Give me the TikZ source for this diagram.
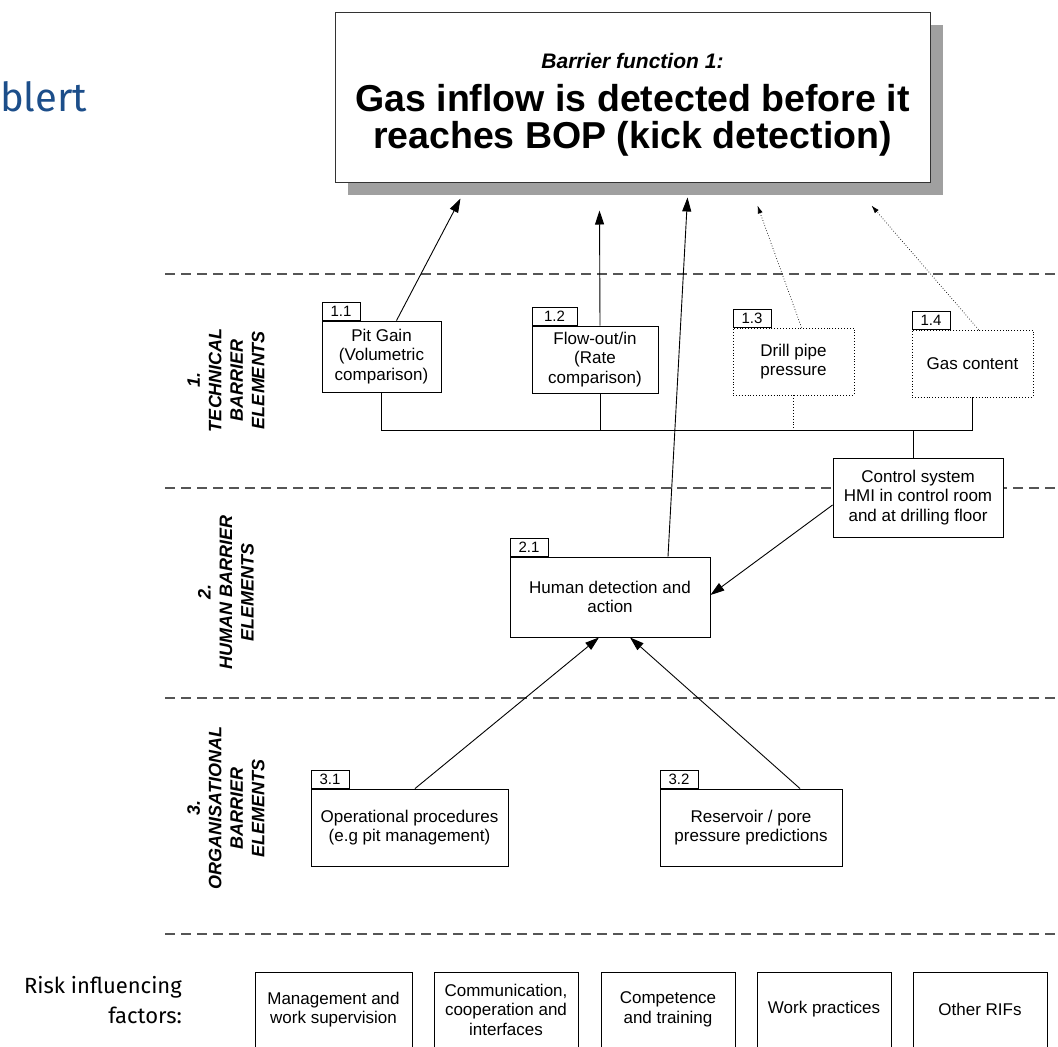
\documentclass[tikz,border=0pt]{standalone}
\usepackage{fontspec}
\setmainfont{Liberation Sans}
\newfontfamily\dinfont{Fira Sans}
\usetikzlibrary{arrows.meta,shadows}
\definecolor{logoblue}{RGB}{28,78,138}
\definecolor{dashgray}{RGB}{85,85,85}
\definecolor{shadowgray}{RGB}{160,160,160}

\begin{document}
\begin{tikzpicture}[x=1pt,y=-1pt,
  topbox/.style={draw=black!80, fill=white, line width=1pt, minimum width=595, minimum height=170, inner sep=0pt, align=center,
    font=\fontsize{37.5}{37}\selectfont\bfseries,
    drop shadow={shadow xshift=13pt, shadow yshift=-13pt, fill=shadowgray, opacity=1}},
  elem/.style={draw, fill=white, line width=0.9pt, inner sep=0pt, align=center, font=\fontsize{17}{19.5}\selectfont},
  weak/.style={elem, dotted},
  tag/.style={draw, fill=white, line width=0.9pt, anchor=south west, inner sep=0pt, minimum width=38, minimum height=18, font=\fontsize{15}{15}\selectfont},
  layer/.style={rotate=90, align=center, font=\fontsize{18}{21.5}\selectfont\bfseries\itshape},
  sep/.style={dashgray, line width=1.1pt, dash pattern=on 10pt off 6pt},
  link/.style={line width=0.9pt},
  arr/.style={line width=0.9pt, -{Triangle[length=14pt,width=9pt]}},
  weakarr/.style={line width=0.7pt, dotted, -{Latex[length=8pt,width=5pt]}}]
\useasboundingbox (0,0) rectangle (1058,1047);
\draw[sep] (165,274) -- (1058,274);
\draw[sep] (165,488) -- (1058,488);
\draw[sep] (165,698) -- (1058,698);
\draw[sep] (165,934) -- (1058,934);

\node[font=\dinfont\fontsize{40}{40}\selectfont, text=logoblue, anchor=base west, inner sep=0pt] (logo) at (0,111) {blert};
\node[topbox] (bf) at (632.5,97) {\rule{0pt}{31pt}{\fontsize{21}{21}\selectfont\itshape Barrier function 1:}\\[6pt]Gas inflow is detected before it\\reaches BOP (kick detection)};

\node[layer] (lay1) at (226,380) {1.\\TECHNICAL\\BARRIER\\ELEMENTS};
\node[layer] (lay2) at (226,592) {2.\\HUMAN BARRIER\\ELEMENTS};
\node[layer] (lay3) at (226,808) {3.\\ORGANISATIONAL\\BARRIER\\ELEMENTS};

\node[elem, minimum width=119, minimum height=71] (n11) at (381.5,356.5) {Pit Gain\\(Volumetric\\comparison)};
\node[elem, minimum width=126, minimum height=67] (n12) at (595,359.5) {Flow-out/in\\(Rate\\comparison)};
\node[weak, minimum width=121, minimum height=67] (n13) at (793.5,361.5) {Drill pipe\\pressure};
\node[weak, minimum width=121, minimum height=67] (n14) at (972.5,363.5) {Gas content};
\node[tag] (t11) at (n11.north west) {1.1};
\node[tag, minimum width=45] (t12) at (n12.north west) {1.2};
\node[tag] (t13) at (n13.north west) {1.3};
\node[tag] (t14) at (n14.north west) {1.4};

\node[elem, minimum width=170, minimum height=79] (ctrl) at (918,497.5) {Control system\\HMI in control room\\and at drilling floor};
\node[elem, minimum width=200, minimum height=80] (n21) at (610,597) {Human detection and\\action};
\node[tag] (t21) at (n21.north west) {2.1};

\node[elem, minimum width=197, minimum height=77] (n31) at (409.5,827.5) {Operational procedures\\(e.g pit management)};
\node[elem, minimum width=182, minimum height=77] (n32) at (751,827.5) {Reservoir / pore\\pressure predictions};
\node[tag] (t31) at (n31.north west) {3.1};
\node[tag] (t32) at (n32.north west) {3.2};

\node[font=\dinfont\fontsize{22}{30}\selectfont, align=right, anchor=east, inner sep=0pt] (rifs) at (182,1000) {Risk influencing\\factors:};
\node[elem, minimum width=157, minimum height=75] (r1) at (333.5,1009.5) {Management and\\work supervision};
\node[elem, minimum width=144, minimum height=75] (r2) at (506,1009.5) {Communication,\\cooperation and\\interfaces};
\node[elem, minimum width=134, minimum height=75] (r3) at (668,1009.5) {Competence\\and training};
\node[elem, minimum width=134, minimum height=75] (r4) at (824,1009.5) {Work practices};
\node[elem, minimum width=134, minimum height=75] (r5) at (980,1009.5) {Other RIFs};

\draw[link] (n11.south) |- (n14.south |- 0,430) -- (n14.south);
\draw[link] ([xshift=5pt]n12.south) -- ++(0,37);
\draw[link, dotted] (n13.south) -- ++(0,35);
\draw[link] ([xshift=-5pt]ctrl.north) -- ++(0,-28);

\draw[arr] ([xshift=15pt]n11.north) -- ([shift={(126,16)}]bf.south west);
\draw[arr] ([xshift=5pt]n12.north) -- ([shift={(265,28)}]bf.south west);
\draw[weakarr] ([xshift=8pt]n13.north) -- ([shift={(423,23)}]bf.south west);
\draw[weakarr] ([xshift=6pt]n14.north) -- ([shift={(537,23)}]bf.south west);
\draw[arr] ([xshift=58pt]n21.north) -- ([shift={(353,15)}]bf.south west);
\draw[arr] ([yshift=-7.5pt]ctrl.west) -- ([yshift=2pt]n21.east);
\draw[arr] ([xshift=5.5pt]n31.north) -- ([xshift=-11pt]n21.south);
\draw[arr] ([xshift=49pt]n32.north) -- ([xshift=20pt]n21.south);
\end{tikzpicture}
\end{document}
